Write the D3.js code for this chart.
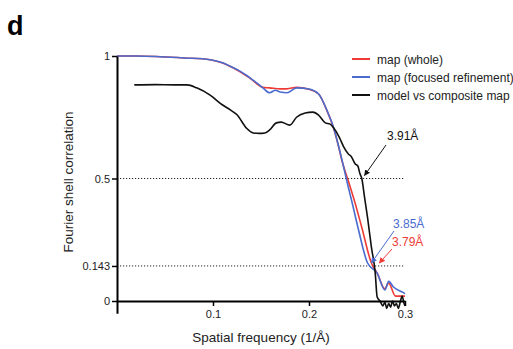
<!DOCTYPE html>
<html>
<head>
<meta charset="utf-8">
<script src="https://cdn.jsdelivr.net/npm/d3@7/dist/d3.min.js"></script>
<style>
	body { margin: 0; background: #fff; }
	svg text { font-family: "Liberation Sans", Arial, Helvetica, sans-serif; }
</style>
</head>
<body>
<svg id="fscGraph" width="513" height="349"></svg>
<script>
'use strict';

// FSC curves
var wholeFreq = [0, 0.02, 0.045, 0.07, 0.097, 0.11, 0.118, 0.125, 0.139, 0.152, 0.159, 0.17, 0.177, 0.187, 0.2, 0.21, 0.219, 0.225, 0.23, 0.235, 0.241, 0.248, 0.255, 0.265, 0.271, 0.279, 0.283, 0.29, 0.297, 0.3];
var wholeFsc = [1.0, 1.0, 0.997, 0.992, 0.985, 0.971, 0.957, 0.943, 0.908, 0.872, 0.87, 0.866, 0.866, 0.872, 0.864, 0.845, 0.774, 0.713, 0.643, 0.563, 0.49, 0.40, 0.30, 0.155, 0.114, 0.05, 0.073, 0.02, 0.02, 0.02];

var focusedFreq = [0, 0.02, 0.045, 0.07, 0.097, 0.11, 0.118, 0.125, 0.139, 0.152, 0.159, 0.165, 0.17, 0.177, 0.187, 0.2, 0.21, 0.219, 0.225, 0.23, 0.235, 0.24, 0.245, 0.251, 0.261, 0.271, 0.279, 0.283, 0.288, 0.298, 0.3];
var focusedFsc = [1.0, 1.0, 0.997, 0.992, 0.985, 0.972, 0.958, 0.945, 0.91, 0.87, 0.85, 0.86, 0.853, 0.85, 0.87, 0.865, 0.845, 0.775, 0.715, 0.645, 0.565, 0.48, 0.40, 0.30, 0.155, 0.114, 0.045, 0.08, 0.057, 0.035, 0.03];

var modelFreq = [0.018, 0.04, 0.06, 0.073, 0.083, 0.097, 0.11, 0.118, 0.125, 0.135, 0.142, 0.148, 0.154, 0.159, 0.166, 0.171, 0.18, 0.187, 0.196, 0.204, 0.21, 0.217, 0.222, 0.225, 0.232, 0.236, 0.241, 0.244, 0.248, 0.251, 0.253, 0.255, 0.258, 0.261, 0.265, 0.269, 0.271, 0.274, 0.277, 0.279, 0.281, 0.283, 0.285, 0.287, 0.289, 0.291, 0.293, 0.295, 0.297, 0.299, 0.3];
var modelFsc = [0.882, 0.883, 0.882, 0.882, 0.87, 0.84, 0.80, 0.78, 0.76, 0.705, 0.686, 0.684, 0.686, 0.698, 0.727, 0.73, 0.718, 0.75, 0.767, 0.771, 0.759, 0.727, 0.722, 0.71, 0.665, 0.63, 0.60, 0.59, 0.56, 0.55, 0.52, 0.50, 0.42, 0.34, 0.22, 0.114, 0.016, 0.0, -0.02, -0.005, -0.03, -0.01, -0.025, 0.0, -0.02, -0.01, -0.03, -0.005, 0.02, -0.01, -0.02];

var seriesNames = ["map (whole)", "map (focused refinement)", "model vs composite map"];
var seriesColors = ["#ee3b36", "#4a6ccf", "#111111"];

var thresholds = [0.5, 0.143];
var yTicks = [0, 0.143, 0.5, 1];
var yTickLabels = ["0", "0.143", "0.5", "1"];
var xTicks = [0.1, 0.2, 0.3];
var xTickLabels = ["0.1", "0.2", "0.3"];

// resolution callouts: value in Å, threshold it was read at, series index
var resolutions = [3.91, 3.85, 3.79];
var resolutionLevels = [0.5, 0.143, 0.143];
var resolutionSeries = [2, 1, 0];

var svg = d3.select("#fscGraph");

var x = d3.scaleLinear().domain([0, 0.3]).range([117, 405]);
var y = d3.scaleLinear().domain([0, 1]).range([301, 56]);

var series = [
	d3.zip(wholeFreq, wholeFsc),
	d3.zip(focusedFreq, focusedFsc),
	d3.zip(modelFreq, modelFsc)
];

// panel letter
svg.append("text")
	.attr("x", 7)
	.attr("y", 35)
	.style("font-size", "27px")
	.style("font-weight", "bold")
	.text("d");

// dotted threshold lines
svg.selectAll(".thresh")
	.data(thresholds)
	.enter()
	.append("line")
	.attr("class", "thresh")
	.attr("x1", x(0))
	.attr("x2", x(0.3))
	.attr("y1", function(d) { return y(d); })
	.attr("y2", function(d) { return y(d); })
	.attr("stroke", "#222")
	.attr("stroke-width", 1)
	.attr("stroke-dasharray", "1.2,1.8");

// curves
var line = d3.line()
	.x(function(d) { return x(d[0]); })
	.y(function(d) { return y(d[1]); })
	.curve(d3.curveMonotoneX);

svg.selectAll(".curve")
	.data(series)
	.enter()
	.append("path")
	.attr("class", "curve")
	.attr("d", line)
	.attr("fill", "none")
	.attr("stroke", function(d, i) { return seriesColors[i]; })
	.attr("stroke-width", 1.6)
	.attr("stroke-linejoin", "round");

// axes
var xAxis = svg.append("g")
	.attr("transform", "translate(0," + y(0) + ")")
	.call(d3.axisBottom(x).tickValues(xTicks).tickFormat(function(d, i) { return xTickLabels[i]; })
		.tickSize(5).tickSizeOuter(0).tickPadding(4));
xAxis.select(".domain").attr("stroke-width", 2);
xAxis.selectAll(".tick line").attr("stroke-width", 1.5);
xAxis.selectAll("text").style("font-size", "11px").style("font-family", "Liberation Sans, Arial, sans-serif").attr("fill", "#222");

var yAxisScale = d3.scaleLinear().domain([-0.05, 1]).range([y(-0.05), y(1)]);
var yAxis = svg.append("g")
	.attr("transform", "translate(" + x(0) + ",0)")
	.call(d3.axisLeft(yAxisScale).tickValues(yTicks).tickFormat(function(d, i) { return yTickLabels[i]; })
		.tickSize(5).tickSizeOuter(0).tickPadding(2));
yAxis.select(".domain").attr("stroke-width", 2);
yAxis.selectAll(".tick line").attr("stroke-width", 1.5);
yAxis.selectAll("text").style("font-size", "11px").style("font-family", "Liberation Sans, Arial, sans-serif").attr("fill", "#222");

// axis titles
svg.append("text")
	.attr("x", 261)
	.attr("y", 342)
	.attr("text-anchor", "middle")
	.style("font-size", "13.5px")
	.attr("fill", "#222")
	.text("Spatial frequency (1/Å)");

svg.append("text")
	.attr("transform", "translate(73,182) rotate(-90)")
	.attr("text-anchor", "middle")
	.style("font-size", "13.5px")
	.attr("fill", "#222")
	.text("Fourier shell correlation");

// legend
var legend = svg.selectAll(".legend")
	.data(seriesNames)
	.enter()
	.append("g")
	.attr("class", "legend")
	.attr("transform", function(d, i) { return "translate(352," + (59 + i * 18) + ")"; });
legend.append("line")
	.attr("x1", 0).attr("x2", 18)
	.attr("stroke", function(d, i) { return seriesColors[i]; })
	.attr("stroke-width", 2);
legend.append("text")
	.attr("x", 25)
	.attr("y", 4.5)
	.style("font-size", "12px")
	.attr("fill", "#222")
	.text(function(d) { return d; });

// resolution callouts
svg.append("defs").selectAll("marker")
	.data(seriesColors)
	.enter()
	.append("marker")
	.attr("id", function(d, i) { return "arrow" + i; })
	.attr("viewBox", "0 0 10 10")
	.attr("refX", 9).attr("refY", 5)
	.attr("markerWidth", 6).attr("markerHeight", 6)
	.attr("orient", "auto")
	.append("path")
	.attr("d", "M0,0 L10,5 L0,10 z")
	.attr("fill", function(d) { return d; });

var labelPos = [[387, 140], [393, 228], [392, 246]];
var arrowFrom = [[386, 145], [394, 231], [392, 249]];
var arrowOffset = [[2, -3], [5, -3], [9, -3]];

resolutions.forEach(function(r, i) {
	var c = seriesColors[resolutionSeries[i]];
	var tx = x(1 / r) + arrowOffset[i][0];
	var ty = y(resolutionLevels[i]) + arrowOffset[i][1];
	svg.append("line")
		.attr("x1", arrowFrom[i][0]).attr("y1", arrowFrom[i][1])
		.attr("x2", tx).attr("y2", ty)
		.attr("stroke", c)
		.attr("stroke-width", 1)
		.attr("marker-end", "url(#arrow" + resolutionSeries[i] + ")");
	svg.append("text")
		.attr("x", labelPos[i][0])
		.attr("y", labelPos[i][1])
		.style("font-size", "12px")
		.attr("fill", c)
		.text(r.toFixed(2) + "Å");
});
</script>
</body>
</html>
